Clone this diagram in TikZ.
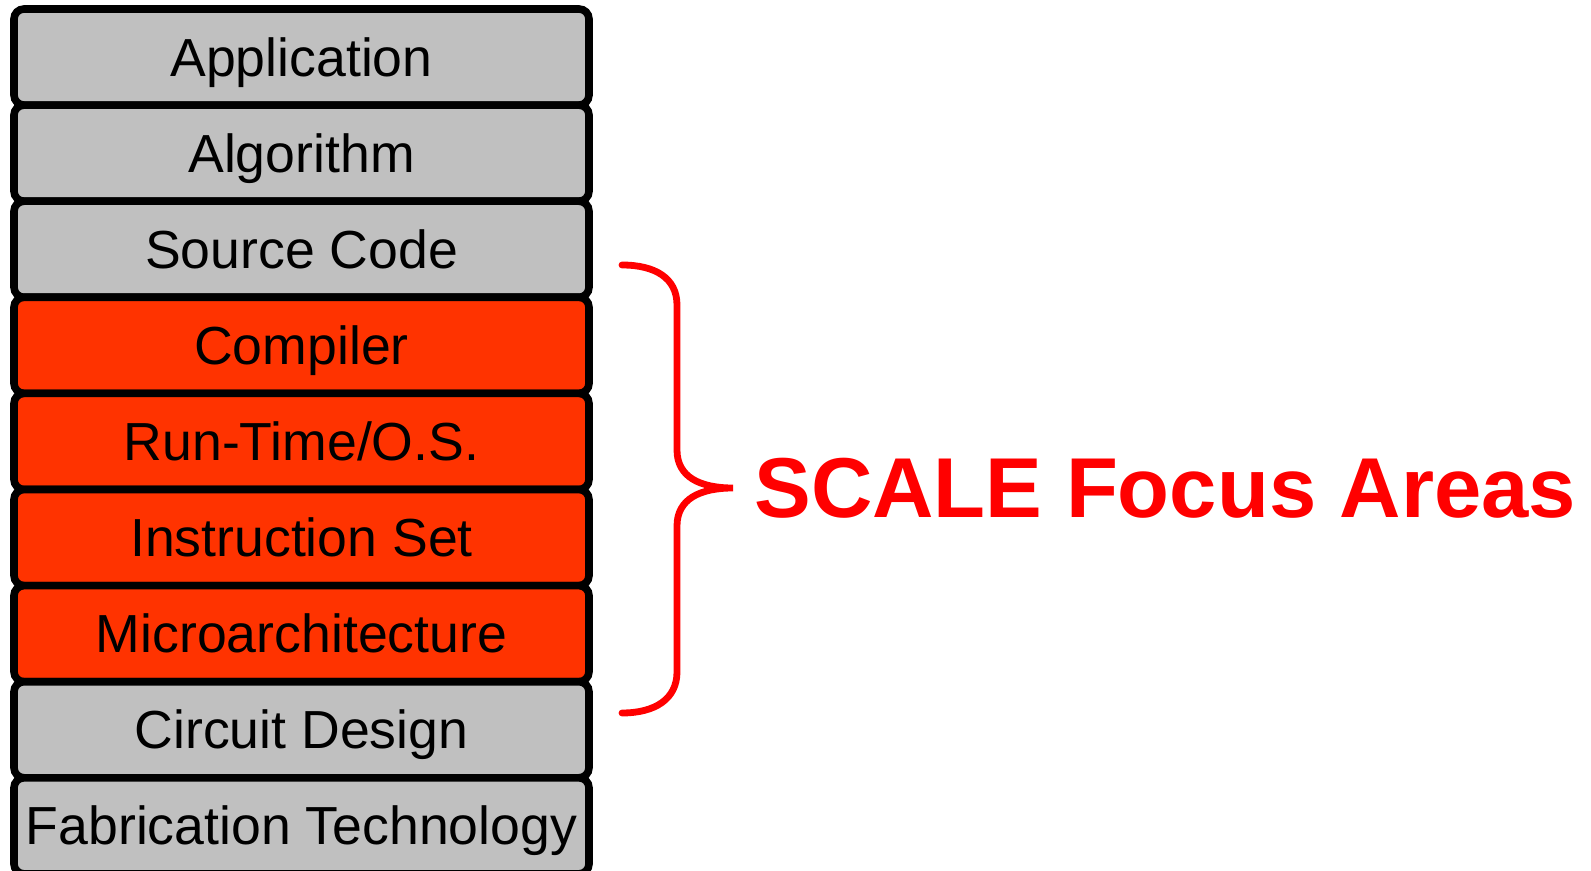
\documentclass[tikz,border=0pt]{standalone}
\usepackage{fontspec}
\setmainfont{Liberation Sans}
\usetikzlibrary{positioning}
\definecolor{layergray}{HTML}{C0C0C0}
\definecolor{focusorange}{HTML}{FF3300}
\definecolor{focusred}{HTML}{FF0000}

\begin{document}
\begin{tikzpicture}[
      x=0.5pt, y=-0.5pt,
      layer/.style={draw, line width=3.8pt, rounded corners=5pt, fill=layergray,
                    minimum width=287.5pt, minimum height=48.05pt, outer sep=0pt,
                    text height=19pt, text depth=0pt,
                    font=\fontsize{26.8}{30}\selectfont},
      focus/.style={layer, fill=focusorange},
      brace/.style={draw=focusred, line width=3.4pt, line cap=round},
    ]
    \useasboundingbox (0,0) rectangle (1591,871);
    % abstraction stack, top to bottom
    \node[layer] (app) at (301.5,57.05) {Application};
    \node[layer, below=0pt of app]   (algo)  {Algorithm};
    \node[layer, below=0pt of algo]  (src)   {Source Code};
    \node[focus, below=0pt of src]   (comp)  {Compiler};
    \node[focus, below=0pt of comp]  (rts)   {Run-Time/O.S.};
    \node[focus, below=0pt of rts]   (isa)   {Instruction Set};
    \node[focus, below=0pt of isa]   (uarch) {Microarchitecture};
    \node[layer, below=0pt of uarch] (circ)  {Circuit Design};
    \node[layer, below=0pt of circ]  (fab)   {Fabrication Technology};
    % label
    \node[anchor=base west, inner sep=0pt, text=focusred,
          font=\fontsize{42.5}{48}\selectfont\bfseries] (label) at (754,517)
      {SCALE Focus Areas};
    % brace ends and tip
    \coordinate (btop) at (622,265);
    \coordinate (bbot) at (622,713);
    \coordinate (btip) at (733,488);
    \draw[brace] (btop) .. controls (655,265) and (677,278) .. (677,305)
      -- (677,450) .. controls (677,477) and (700,488) .. (btip)
      .. controls (700,488) and (677,499) .. (677,526)
      -- (677,672) .. controls (677,699) and (655,713) .. (bbot);
\end{tikzpicture}
\end{document}
